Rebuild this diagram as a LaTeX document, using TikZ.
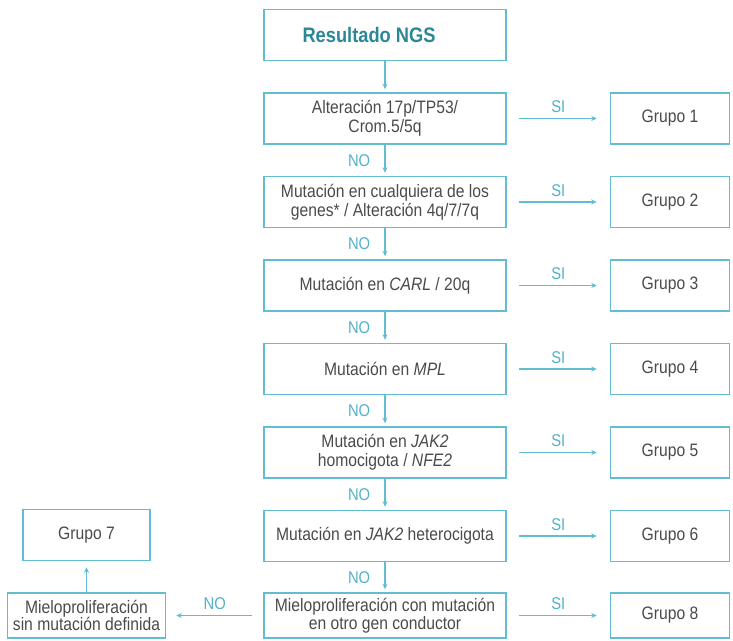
\documentclass[tikz,border=0pt]{standalone}
\usepackage{fontspec}
\setmainfont[FakeStretch=0.87]{Liberation Sans}
\usepackage{tikz}
\usetikzlibrary{arrows.meta, positioning}
\definecolor{linecyan}{HTML}{62BCD2}
\definecolor{txtgray}{HTML}{4A4A4A}
\definecolor{titleteal}{HTML}{2B8796}
\definecolor{labelcyan}{HTML}{4FB2C9}
\tikzstyle{arrow} = [line width=1.5pt, draw=linecyan, -{Stealth[length=5.5pt,width=5pt]}]
\tikzstyle{question} = [rectangle, draw=linecyan, line width=1.5pt, minimum width=242pt, minimum height=51pt, align=center, text=txtgray, inner sep=0pt, font=\fontsize{18}{19}\selectfont]
\tikzstyle{titlebox} = [question, text=titleteal, font=\fontsize{21}{22}\selectfont\bfseries]
\tikzstyle{group} = [question, minimum width=119pt]
\tikzstyle{lastrow} = [minimum height=45pt, font=\fontsize{18}{17.5}\selectfont]
\tikzstyle{answer} = [text=labelcyan, inner sep=1pt, font=\fontsize{17}{18}\selectfont]

\begin{document}
\begin{tikzpicture}[x=1pt, y=1pt, node distance=31pt]
\useasboundingbox (0,0) rectangle (733,-640);

% Main Column
\node (ngs) [titlebox] at (385,-35) {Resultado NGS\hspace*{32pt}};
\node (q1) [question, below=of ngs] {Alteración 17p/TP53/\\Crom.5/5q};
\node (q2) [question, below=of q1] {Mutación en cualquiera de los\\genes* / Alteración 4q/7/7q};
\node (q3) [question, below=of q2] {Mutación en \textit{CARL} / 20q};
\node (q4) [question, below=of q3] {Mutación en \textit{MPL}};
\node (q5) [question, below=of q4] {Mutación en \textit{JAK2}\\homocigota / \textit{NFE2}};
\node (q6) [question, below=of q5] {Mutación en \textit{JAK2} heterocigota};
\node (q7) [question, lastrow, below=30pt of q6] {Mieloproliferación con mutación\\en otro gen conductor};

% Groups
\node (g1) [group, right=103pt of q1] {Grupo 1};
\node (g2) [group, right=103pt of q2] {Grupo 2};
\node (g3) [group, right=103pt of q3] {Grupo 3};
\node (g4) [group, right=103pt of q4] {Grupo 4};
\node (g5) [group, right=103pt of q5] {Grupo 5};
\node (g6) [group, right=103pt of q6] {Grupo 6};
\node (g8) [group, lastrow, right=103pt of q7] {Grupo 8};
\node (q8) [question, lastrow, minimum width=158pt, left=97pt of q7] {Mieloproliferación\\sin mutación definida};
\node (g7) [group, minimum width=127pt, above=of q8] {Grupo 7};

% Connections
\draw [arrow, shorten >=3pt] (ngs) -- (q1);
\draw [arrow, shorten >=3pt] (q1) -- node[answer, left=13pt] {NO} (q2);
\draw [arrow, shorten >=3pt] (q2) -- node[answer, left=13pt] {NO} (q3);
\draw [arrow, shorten >=3pt] (q3) -- node[answer, left=13pt] {NO} (q4);
\draw [arrow, shorten >=3pt] (q4) -- node[answer, left=13pt] {NO} (q5);
\draw [arrow, shorten >=3pt] (q5) -- node[answer, left=13pt] {NO} (q6);
\draw [arrow, shorten >=3pt] (q6) -- node[answer, left=13pt] {NO} (q7);
\draw [arrow, shorten <=12pt, shorten >=13pt] (q1) -- node[answer, above=4pt] {SI} (g1);
\draw [arrow, shorten <=12pt, shorten >=13pt] (q2) -- node[answer, above=4pt] {SI} (g2);
\draw [arrow, shorten <=12pt, shorten >=13pt] (q3) -- node[answer, above=4pt] {SI} (g3);
\draw [arrow, shorten <=12pt, shorten >=13pt] (q4) -- node[answer, above=4pt] {SI} (g4);
\draw [arrow, shorten <=12pt, shorten >=13pt] (q5) -- node[answer, above=4pt] {SI} (g5);
\draw [arrow, shorten <=12pt, shorten >=13pt] (q6) -- node[answer, above=4pt] {SI} (g6);
\draw [arrow, shorten <=12pt, shorten >=13pt] (q7) -- node[answer, above=4pt] {SI} (g8);
\draw [arrow, shorten <=11pt, shorten >=10pt] (q7) -- node[answer, above=4pt] {NO} (q8);
\draw [arrow, shorten >=6pt] (q8.north) -- (q8.north |- g7.south);

\end{tikzpicture}
\end{document}
